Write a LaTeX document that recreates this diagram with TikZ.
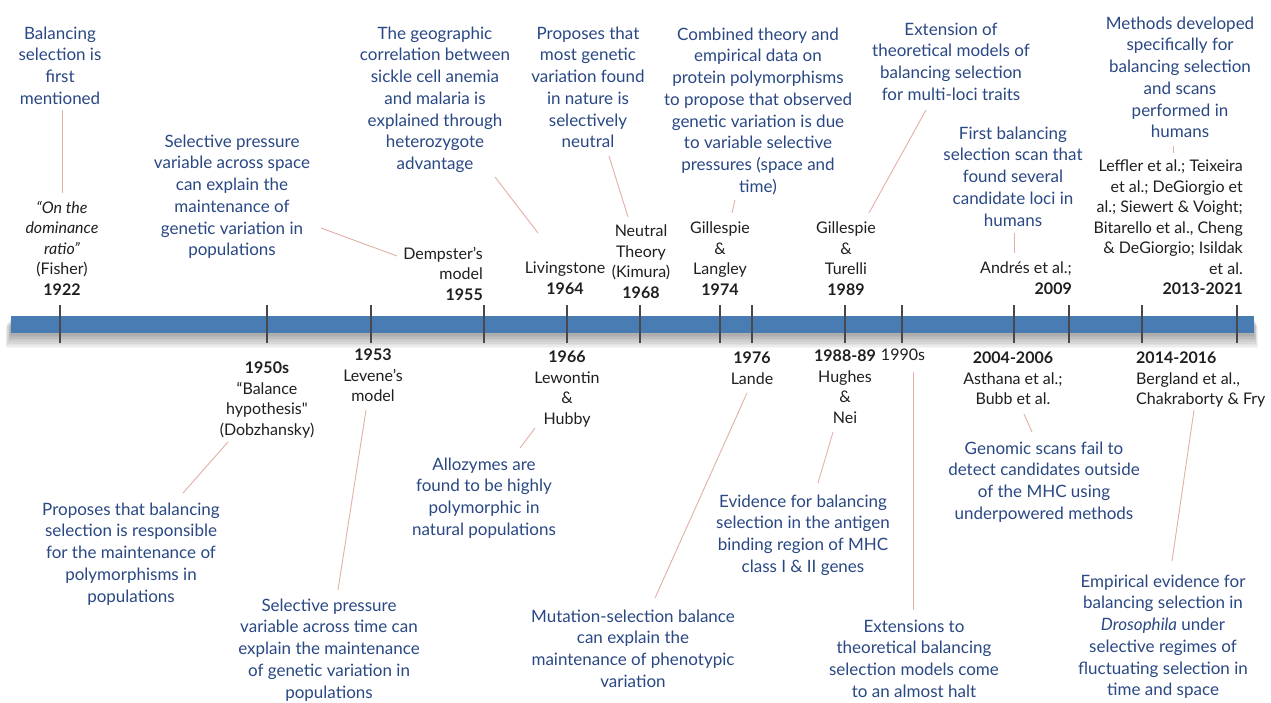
\documentclass[tikz,border=0pt]{standalone}
\usepackage{fontspec}
\setmainfont{Lato}[Ligatures=TeXOff]
\definecolor{noteblue}{RGB}{42,72,132}
\definecolor{linkpink}{RGB}{226,176,166}
\definecolor{barblue}{RGB}{74,124,180}
\definecolor{tickgray}{RGB}{72,72,78}
\newcommand{\notefont}{\fontsize{17}{21.7}\selectfont}
\newcommand{\whofont}{\fontsize{16}{20.5}\selectfont}
\begin{document}
\begin{tikzpicture}[x=1pt,y=-1pt,
  note/.style={text=noteblue, align=center, font=\notefont, inner sep=0pt, anchor=north, yshift=-2.5pt},
  who/.style={text=black!88, align=center, font=\whofont, inner sep=0pt, anchor=north, yshift=-2pt},
  whoright/.style={who, align=right, anchor=north east},
  wholeft/.style={who, align=left, anchor=north west},
  link/.style={draw=linkpink, line width=0.9pt},
  tickmark/.style={draw=tickgray, line width=2.6pt}]

\useasboundingbox[fill=white] (0,0) rectangle (1271,702);

% ---- time axis with a soft shadow ----
\foreach \k in {1,...,9}{
  \fill[black, opacity=0.04] (11-\k*0.6,318+\k*0.9) rectangle (1254+\k*0.4,334+\k*1.6);
}
\fill[barblue] (11,316) rectangle (1254,333);
\foreach \t in {60,267,371,484,567,640,720,752,845,902,1014,1069,1142,1237}{
  \draw[tickmark] (\t,305) -- (\t,343);
}

% ---- events above the axis ----
\node[note] (t1) at (60,24) {Balancing\\selection is\\first\\mentioned};
\node[who] (b1) at (62,199) {\textit{“On the}\\\textit{dominance}\\\textit{ratio”}\\(Fisher)\\\textbf{1922}};

\node[note] (t2) at (232,132) {Selective pressure\\variable across space\\can explain the\\maintenance of\\genetic variation in\\populations};
\node[whoright] (b2) at (483,245) {Dempster’s\\model\\\textbf{1955}};

\node[note] (t3) at (435,24) {The geographic\\correlation between\\sickle cell anemia\\and malaria is\\explained through\\heterozygote\\advantage};
\node[who] (b3) at (565,260) {Livingstone\\\textbf{1964}};

\node[note] (t4) at (588,24) {Proposes that\\most genetic\\variation found\\in nature is\\selectively\\neutral};
\node[who] (b4) at (641,223) {Neutral\\Theory\\(Kimura)\\\textbf{1968}};

\node[note] (t5) at (758,25) {Combined theory and\\empirical data on\\protein polymorphisms\\to propose that observed\\genetic variation is due\\to variable selective\\pressures (space and\\time)};
\node[who] (b5) at (720,220) {Gillespie\\\&\\Langley\\\textbf{1974}};

\node[note] (t6) at (951,20) {Extension of\\theoretical models of\\balancing selection\\for multi-loci traits};
\node[who] (b6) at (846,220) {Gillespie\\\&\\Turelli\\\textbf{1989}};

\node[note] (t7) at (1013,124) {First balancing\\selection scan that\\found several\\candidate loci in\\humans};
\node[whoright] (b7) at (1072,260) {Andrés et al.;\\\textbf{2009}};

\node[note] (t8) at (1180,14) {Methods developed\\specifically for\\balancing selection\\and scans\\performed in\\humans};
\node[whoright] (b8) at (1243,158) {Leffler et al.; Teixeira\\et al.; DeGiorgio et\\al.; Siewert \& Voight;\\Bitarello et al., Cheng\\\& DeGiorgio; Isildak\\et al.\\\textbf{2013-2021}};

% ---- events below the axis ----
\node[who] (c1) at (267,360) {\textbf{1950s}\\“Balance\\hypothesis"\\(Dobzhansky)};
\node[note] (d1) at (131,500) {Proposes that balancing\\selection is responsible\\for the maintenance of\\polymorphisms in\\populations};

\node[who] (c2) at (373,347) {\textbf{1953}\\Levene’s\\model};
\node[note] (d2) at (329,596) {Selective pressure\\variable across time can\\explain the maintenance\\of genetic variation in\\populations};

\node[who] (c3) at (567,349) {\textbf{1966}\\Lewontin\\\&\\Hubby};
\node[note] (d3) at (484,455) {Allozymes are\\found to be highly\\polymorphic in\\natural populations};

\node[who] (c4) at (752,350) {\textbf{1976}\\Lande};
\node[note] (d4) at (633,607) {Mutation-selection balance\\can explain the\\maintenance of phenotypic\\variation};

\node[who] (c5) at (845,348) {\textbf{1988-89}\\Hughes\\\&\\Nei};
\node[note] (d5) at (803,492) {Evidence for balancing\\selection in the antigen\\binding region of MHC\\class I \& II genes};

\node[who] (c6) at (903,347) {1990s};
\node[note] (d6) at (914,617) {Extensions to\\theoretical balancing\\selection models come\\to an almost halt};

\node[who] (c7) at (1013,350) {\textbf{2004-2006}\\Asthana et al.;\\Bubb et al.};
\node[note] (d7) at (1044,439) {Genomic scans fail to\\detect candidates outside\\of the MHC using\\underpowered methods};

\node[wholeft] (c8) at (1136,350) {\textbf{2014-2016}\\Bergland et al.,\\Chakraborty \& Fry};
\node[note] (d8) at (1163,572) {Empirical evidence for\\balancing selection in\\\textit{Drosophila} under\\selective regimes of\\fluctuating selection in\\time and space};

% ---- leader lines between descriptions and citations ----
\coordinate (l1a) at (62,110);   \coordinate (l1b) at (62,193);
\coordinate (l2a) at (321,228);  \coordinate (l2b) at (397,256);
\coordinate (l3a) at (495,177);  \coordinate (l3b) at (538,233);
\coordinate (l4a) at (609,156);  \coordinate (l4b) at (628,217);
\coordinate (l5a) at (735,200);  \coordinate (l5b) at (732,213);
\coordinate (l6a) at (926,110);  \coordinate (l6b) at (869,213);
\coordinate (l7a) at (1014,233); \coordinate (l7b) at (1014,253);
\coordinate (l8a) at (1173,146); \coordinate (l8b) at (1173,153);
\coordinate (m1a) at (228,442);  \coordinate (m1b) at (183,493);
\coordinate (m2a) at (366,410);  \coordinate (m2b) at (338,590);
\coordinate (m3a) at (535,428);  \coordinate (m3b) at (520,448);
\coordinate (m4a) at (747,393);  \coordinate (m4b) at (655,598);
\coordinate (m5a) at (833,432);  \coordinate (m5b) at (818,483);
\coordinate (m6a) at (913,372);  \coordinate (m6b) at (913,610);
\coordinate (m7a) at (1024,414); \coordinate (m7b) at (1032,432);
\coordinate (m8a) at (1194,410); \coordinate (m8b) at (1172,561);
\foreach \p in {l1,l2,l3,l4,l5,l6,l7,l8,m1,m2,m3,m4,m5,m6,m7,m8}{
  \draw[link] (\p a) -- (\p b);
}
\end{tikzpicture}
\end{document}
